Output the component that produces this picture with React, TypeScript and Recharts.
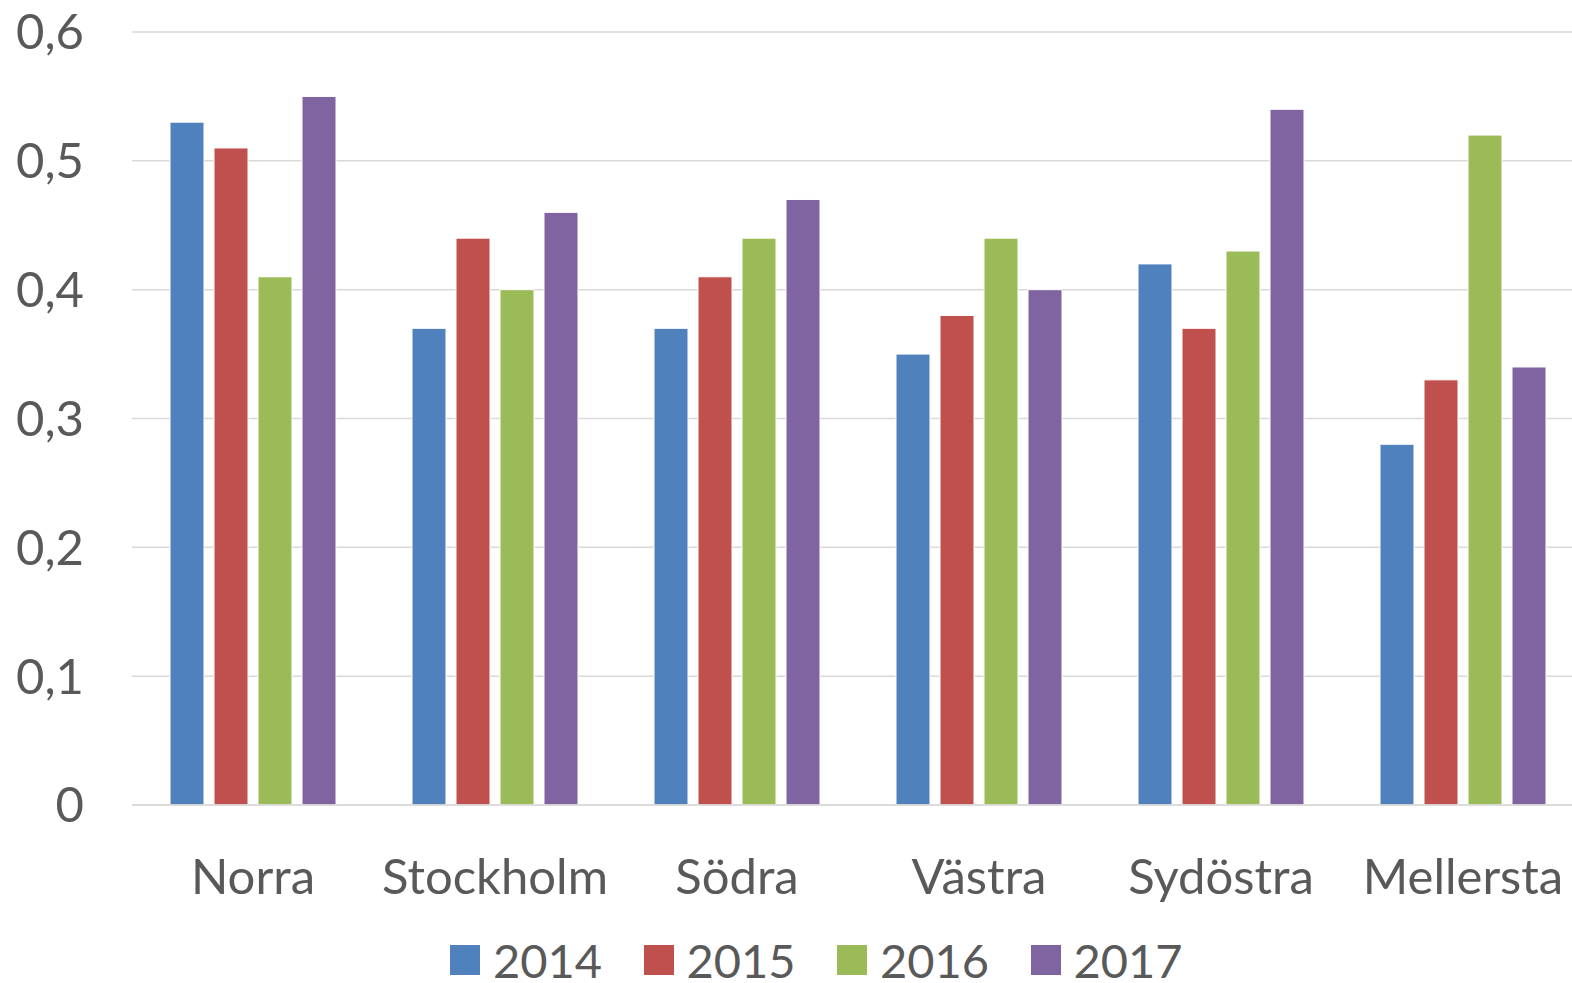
import { BarChart, Bar, XAxis, YAxis, CartesianGrid, Legend } from "recharts";

const regions = ["Norra", "Stockholm", "Södra", "Västra", "Sydöstra", "Mellersta"];
const y2014 = [0.53, 0.37, 0.37, 0.35, 0.42, 0.28];
const y2015 = [0.51, 0.44, 0.41, 0.38, 0.37, 0.33];
const y2016 = [0.41, 0.4, 0.44, 0.44, 0.43, 0.52];
const y2017 = [0.55, 0.46, 0.47, 0.4, 0.54, 0.34];
const yTicks = [0, 0.1, 0.2, 0.3, 0.4, 0.5, 0.6];

const series = [
  { key: "2014", color: "#4F81BD" },
  { key: "2015", color: "#C0504D" },
  { key: "2016", color: "#9BBB59" },
  { key: "2017", color: "#8064A2" },
];

const data = regions.map((name, i) => ({
  name,
  "2014": y2014[i],
  "2015": y2015[i],
  "2016": y2016[i],
  "2017": y2017[i],
}));

const FONT = "Lato, 'Open Sans', sans-serif";
const TEXT = "#595959";

const fmt = (v: number) => (v === 0 ? "0" : v.toFixed(1).replace(".", ","));

function LegendBox() {
  return (
    <div style={{ height: 78, position: "relative", fontFamily: FONT }}>
      {series.map((s, i) => (
        <div
          key={s.key}
          style={{
            position: "absolute",
            left: 450 + i * 193.5,
            top: 40,
            height: 30,
            display: "flex",
            alignItems: "center",
          }}
        >
          <span style={{ width: 30, height: 30, background: s.color, display: "inline-block" }} />
          <span style={{ marginLeft: 13, fontSize: 47, lineHeight: "36px", color: TEXT }}>{s.key}</span>
        </div>
      ))}
    </div>
  );
}

export default function App() {
  return (
    <div
      style={{
        position: "fixed",
        left: 0,
        top: 0,
        width: 1572,
        height: 983,
        overflow: "hidden",
        background: "#fff",
      }}
    >
      <BarChart
        width={1584}
        height={983}
        data={data}
        margin={{ top: 32, right: 0, bottom: 0, left: 0 }}
        barSize={34}
        barGap={10}
      >
        <CartesianGrid vertical={false} stroke="#d9d9d9" strokeWidth={1.5} />
        <XAxis
          dataKey="name"
          height={100}
          tickLine={false}
          tickSize={0}
          tickMargin={54}
          axisLine={{ stroke: "#d9d9d9", strokeWidth: 1.5 }}
          tick={{ fontSize: 49, fill: TEXT, fontFamily: FONT }}
          interval={0}
        />
        <YAxis
          width={132}
          domain={[0, 0.6]}
          ticks={yTicks}
          tickFormatter={fmt}
          axisLine={false}
          tickLine={false}
          tickSize={0}
          tickMargin={48}
          tick={{ fontSize: 49, fill: TEXT, fontFamily: FONT }}
        />
        <Legend verticalAlign="bottom" content={() => <LegendBox />} />
        {series.map((s) => (
          <Bar
            key={s.key}
            dataKey={s.key}
            fill={s.color}
            stroke="#ffffff"
            strokeWidth={1}
            isAnimationActive={false}
          />
        ))}
      </BarChart>
    </div>
  );
}
